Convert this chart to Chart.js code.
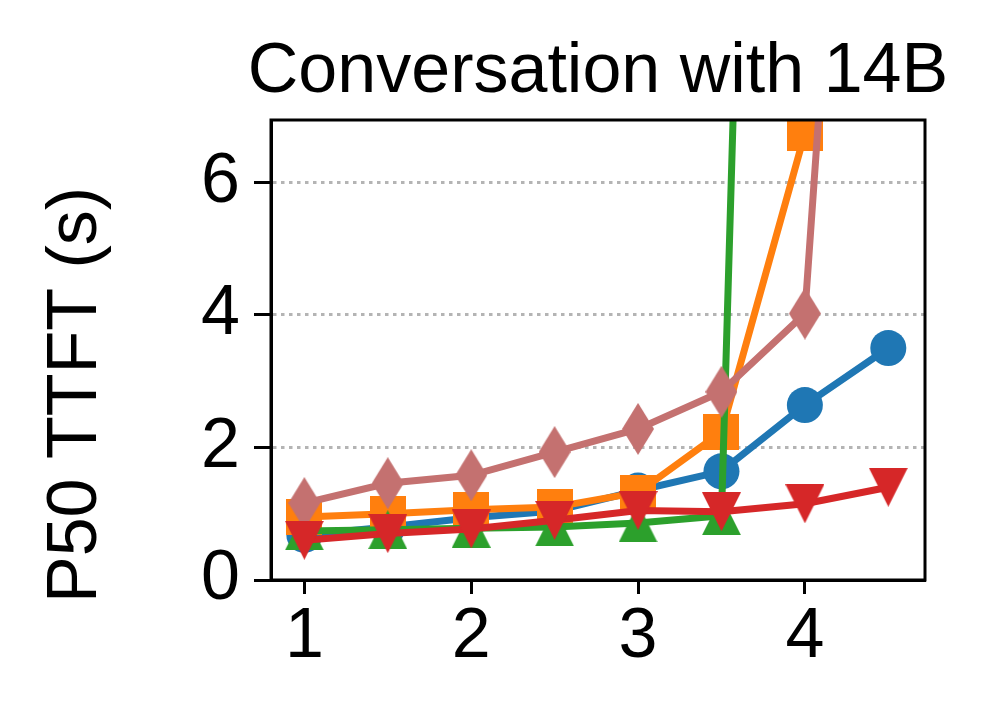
<!DOCTYPE html>
<html>
<head>
<meta charset="utf-8">
<script src="https://cdn.jsdelivr.net/npm/chart.js@4"></script>
<style>
  body { margin: 0; background: #fff; }
  #wrap { width: 998px; height: 712px; }
</style>
</head>
<body>
<div id="wrap"><canvas id="myChart" width="998" height="712"></canvas></div>
<script>
// valeurs
const xValues = [1, 1.5, 2, 2.5, 3, 3.5, 4, 4.5];
const blueValues = [0.68, 0.8, 0.94, 1.04, 1.35, 1.64, 2.64, 3.5];
const orangeValues = [0.95, 1.0, 1.06, 1.1, 1.32, 2.23, 6.74];
const greenValues = [0.74, 0.76, 0.78, 0.8, 0.86, 0.97, 44];
const pinkValues = [1.16, 1.46, 1.58, 1.93, 2.28, 2.84, 4.02, 22];
const redValues = [0.6, 0.7, 0.77, 0.9, 1.05, 1.03, 1.15, 1.4];
const xTicks = [1, 2, 3, 4];
const yTicks = [0, 2, 4, 6];
const titleText = "Conversation with 14B";
const yTitle = "P50 TTFT (s)";

const FONT = "'Liberation Sans', Arial, sans-serif";
const LW = 7;

const toPoints = (vals) => vals.map((v, i) => ({ x: xValues[i], y: v }));

// petits canvas pour les marqueurs
function makeMarker(w, h, color, pts) {
  const c = document.createElement('canvas');
  c.width = w; c.height = h;
  const g = c.getContext('2d');
  g.fillStyle = color;
  g.beginPath();
  g.moveTo(pts[0][0], pts[0][1]);
  for (let i = 1; i < pts.length; i++) g.lineTo(pts[i][0], pts[i][1]);
  g.closePath();
  g.fill();
  return c;
}
const squareMk = makeMarker(36, 36, '#ff7f0e', [[0,0],[36,0],[36,36],[0,36]]);
const triUp = makeMarker(39, 39, '#2ca02c', [[19.5,0],[39,39],[0,39]]);
const triDown = makeMarker(39, 39, '#d62728', [[0,0],[39,0],[19.5,39]]);
const diamond = makeMarker(32, 52, '#c47170', [[16,0],[32,26],[16,52],[0,26]]);

const framePlugin = {
  id: 'frame',
  afterDraw(chart) {
    const { ctx, chartArea: a } = chart;
    ctx.save();
    ctx.strokeStyle = '#000';
    ctx.lineWidth = 3;
    ctx.strokeRect(a.left, a.top, a.right - a.left, a.bottom - a.top);
    ctx.fillStyle = '#000';
    ctx.font = "70px " + FONT;
    ctx.textAlign = 'center';
    ctx.textBaseline = 'alphabetic';
    ctx.fillText(titleText, (a.left + a.right) / 2, 92);
    ctx.translate(96, 395);
    ctx.rotate(-Math.PI / 2);
    ctx.fillText(yTitle, 0, 0);
    ctx.restore();
  }
};

const canvasElement = document.getElementById('myChart');
const myGraph = new Chart(canvasElement, {
  type: 'line',
  plugins: [framePlugin],
  data: {
    datasets: [
      {
        data: toPoints(blueValues), borderColor: '#1f77b4', backgroundColor: '#1f77b4',
        borderWidth: LW, pointStyle: 'circle', pointRadius: 18, pointBorderWidth: 0, order: 5
      },
      {
        data: toPoints(orangeValues), borderColor: '#ff7f0e', backgroundColor: '#ff7f0e',
        borderWidth: LW, pointStyle: squareMk, pointRadius: 17, order: 4
      },
      {
        data: toPoints(greenValues), borderColor: '#2ca02c', backgroundColor: '#2ca02c',
        borderWidth: LW, pointStyle: triUp, pointRadius: 17, order: 3
      },
      {
        data: toPoints(pinkValues), borderColor: '#c47170', backgroundColor: '#c47170',
        borderWidth: LW, pointStyle: diamond, pointRadius: 17, order: 2
      },
      {
        data: toPoints(redValues), borderColor: '#d62728', backgroundColor: '#d62728',
        borderWidth: LW, pointStyle: triDown, pointRadius: 17, order: 1
      }
    ]
  },
  options: {
    responsive: false,
    animation: false,
    devicePixelRatio: 1,
    layout: { padding: { top: 120, right: 73, left: 0, bottom: 0 } },
    plugins: { legend: { display: false }, title: { display: false }, tooltip: { enabled: false } },
    scales: {
      x: {
        type: 'linear', min: 0.8, max: 4.72,
        afterBuildTicks: (s) => { s.ticks = xTicks.map(v => ({ value: v })); },
        afterFit: (s) => { s.height = 132; },
        grid: { drawOnChartArea: false, tickLength: 14, tickColor: '#000', tickWidth: 3 },
        border: { color: '#000', width: 3 },
        ticks: { color: '#000', font: { size: 70, family: FONT }, padding: 2, maxRotation: 0 }
      },
      y: {
        type: 'linear', min: 0, max: 6.94,
        afterBuildTicks: (s) => { s.ticks = yTicks.map(v => ({ value: v })); },
        afterFit: (s) => { s.width = 271; },
        grid: {
          color: (c) => (c.tick && c.tick.value === 0) ? 'rgba(0,0,0,0)' : '#b4b4b4',
          lineWidth: 3, tickLength: 17, tickColor: '#000', tickWidth: 3
        },
        border: { color: '#000', width: 3, dash: [3.5, 4.5] },
        ticks: { color: '#000', font: { size: 70, family: FONT }, padding: 14 }
      }
    }
  }
});
</script>
</body>
</html>
